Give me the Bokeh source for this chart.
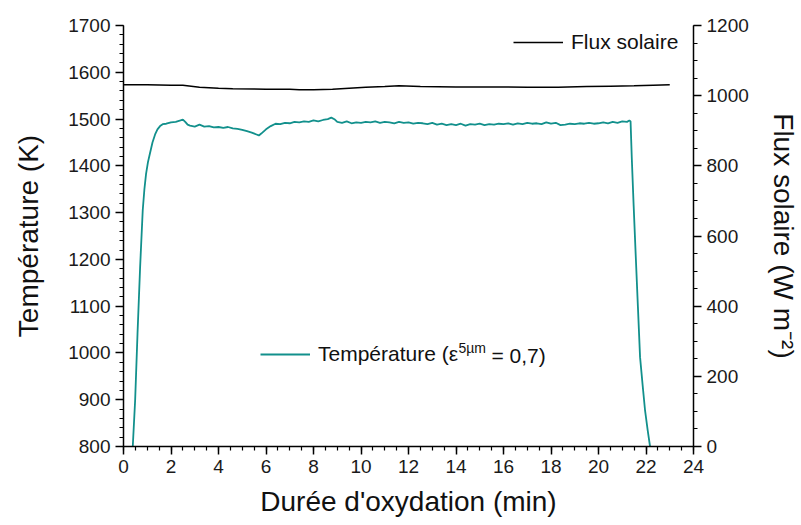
from bokeh.plotting import figure
from bokeh.models import Range1d, LinearAxis, SingleIntervalTicker, Legend, LegendItem, Label
from bokeh.embed import file_html
from bokeh.resources import INLINE

# ---- data ----
flux_time = [0, 1, 2, 2.5, 3.2, 4.0, 4.6, 5.5, 6.0, 7.0, 7.4, 8.0, 8.8, 9.5, 10.2, 11.0, 11.6,
             12.5, 14.0, 15.5, 17.0, 18.3, 19.5, 20.5, 21.5, 22.3, 23.0]
flux_vals = [1031, 1031, 1030, 1030, 1024, 1021, 1020, 1019, 1018, 1018, 1017, 1017, 1018, 1021, 1024, 1026, 1028,
             1026, 1025, 1025, 1024, 1024, 1026, 1027, 1028, 1030, 1031]

temp_time = [0.39, 0.49, 0.59, 0.70, 0.81, 0.88, 0.95, 1.03, 1.12, 1.22, 1.33, 1.43, 1.54, 1.65, 1.8, 2.0, 2.2,
             2.4, 2.5, 2.6, 2.7, 2.8,
             3.0, 3.2, 3.4, 3.6, 3.8, 4.0, 4.2, 4.4, 4.6, 4.8, 5.0, 5.2, 5.4, 5.6, 5.7, 5.8,
             6.0, 6.2, 6.4, 6.6, 6.8, 7.0, 7.2, 7.4, 7.6, 7.8, 8.0, 8.2, 8.4, 8.6, 8.75, 8.9,
             9.0, 9.2, 9.4, 9.6, 9.8, 10.0, 10.2, 10.4, 10.6, 10.8, 11.0, 11.2, 11.4, 11.6, 11.8,
             12.0, 12.2, 12.4, 12.6, 12.8, 13.0, 13.2, 13.4, 13.6, 13.8, 14.0, 14.2, 14.4, 14.6, 14.8,
             15.0, 15.2, 15.4, 15.6, 15.8, 16.0, 16.2, 16.4, 16.6, 16.8, 17.0, 17.2, 17.4, 17.6, 17.8,
             18.0, 18.2, 18.4, 18.6, 18.8, 19.0, 19.2, 19.4, 19.6, 19.8, 20.0, 20.2, 20.4, 20.6, 20.8,
             21.0, 21.2, 21.3, 21.35, 21.40, 21.48, 21.57, 21.66, 21.75, 21.86, 21.96, 22.07, 22.17]
temp_vals = [800, 899, 1041, 1184, 1305, 1350, 1383, 1408, 1428, 1450, 1467, 1478, 1485, 1489, 1490, 1493, 1494,
             1497, 1499, 1494, 1488, 1486,
             1484, 1488, 1484, 1485, 1482, 1483, 1481, 1483, 1480, 1479, 1477, 1474, 1471, 1467, 1465, 1469,
             1478, 1485, 1490, 1489, 1492, 1491, 1494, 1493, 1495, 1494, 1497, 1495, 1498, 1500, 1503, 1499,
             1494, 1492, 1495, 1491, 1493, 1492, 1494, 1493, 1495, 1492, 1494, 1493, 1491, 1494, 1492,
             1493, 1490, 1492, 1491, 1489, 1492, 1488, 1490, 1487, 1489, 1487, 1490, 1486, 1489, 1488,
             1490, 1487, 1489, 1488, 1490, 1489, 1491, 1488, 1491, 1489, 1492, 1490, 1491, 1489, 1493,
             1490, 1492, 1487, 1488, 1490, 1489, 1491, 1490, 1492, 1490, 1491, 1493, 1491, 1494, 1492,
             1495, 1494, 1497, 1495, 1419, 1315, 1205, 1098, 991, 930, 877, 835, 800]

FONT = "Liberation Sans"
TEAL = "#12908c"

p = figure(width=801, height=525, output_backend="svg", toolbar_location=None,
           x_range=Range1d(0, 24), y_range=Range1d(800, 1700),
           min_border_left=123, min_border_right=106, min_border_top=25, min_border_bottom=79)
p.extra_y_ranges = {"flux": Range1d(0, 1200)}
p.outline_line_color = None
p.xgrid.visible = False
p.ygrid.visible = False

right = LinearAxis(y_range_name="flux", ticker=SingleIntervalTicker(interval=200, num_minor_ticks=4))
p.add_layout(right, "right")

p.xaxis.ticker = SingleIntervalTicker(interval=2, num_minor_ticks=4)
p.yaxis[0].ticker = SingleIntervalTicker(interval=100, num_minor_ticks=5)

p.xaxis.axis_label = "Durée d'oxydation (min)"
p.yaxis[0].axis_label = "Température (K)"
right.axis_label = "Flux solaire (W m⁻²)"

for ax in [p.xaxis[0], p.yaxis[0], right]:
    ax.axis_line_width = 1.5
    ax.axis_line_color = "black"
    ax.major_tick_in = 0
    ax.major_tick_out = 8
    ax.minor_tick_in = 0
    ax.minor_tick_out = 4
    ax.major_tick_line_width = 1.5
    ax.minor_tick_line_width = 1.2
    ax.major_tick_line_color = "black"
    ax.minor_tick_line_color = "black"
    ax.major_label_text_font = FONT
    ax.major_label_text_font_size = "19px"
    ax.major_label_text_color = "#1a1a1a"
    ax.axis_label_text_font = FONT
    ax.axis_label_text_font_size = "28px"
    ax.axis_label_text_font_style = "normal"
    ax.axis_label_text_color = "#111111"
    ax.major_label_standoff = 5

p.xaxis.major_label_standoff = 5
p.xaxis.axis_label_standoff = 10
p.yaxis[0].axis_label_standoff = 21
right.axis_label_standoff = 16

r_flux = p.line(flux_time, flux_vals, y_range_name="flux", line_color="black", line_width=1.5)
r_temp = p.line(temp_time, temp_vals, line_color=TEAL, line_width=1.8)

def mk_legend(item, loc):
    lg = Legend(items=[item], location=loc, border_line_color=None, background_fill_alpha=0,
                padding=0, margin=0, spacing=0, glyph_width=50, glyph_height=20, label_height=20,
                label_standoff=8, label_text_font=FONT, label_text_font_size="21px",
                label_text_color="#111111")
    return lg

p.add_layout(mk_legend(LegendItem(label="Flux solaire", renderers=[r_flux]), (390, 392)))
p.add_layout(mk_legend(LegendItem(label="Température (ε", renderers=[r_temp]), (137, 80)))

p.add_layout(Label(x=335, y=99, x_units="screen", y_units="screen", text="5µm",
                   text_font=FONT, text_font_size="14px", text_baseline="middle", text_color="#111111"))
p.add_layout(Label(x=368, y=91, x_units="screen", y_units="screen", text="= 0,7)",
                   text_font=FONT, text_font_size="21px", text_baseline="middle", text_color="#111111"))

open("out.html", "w").write(file_html(p, INLINE))
